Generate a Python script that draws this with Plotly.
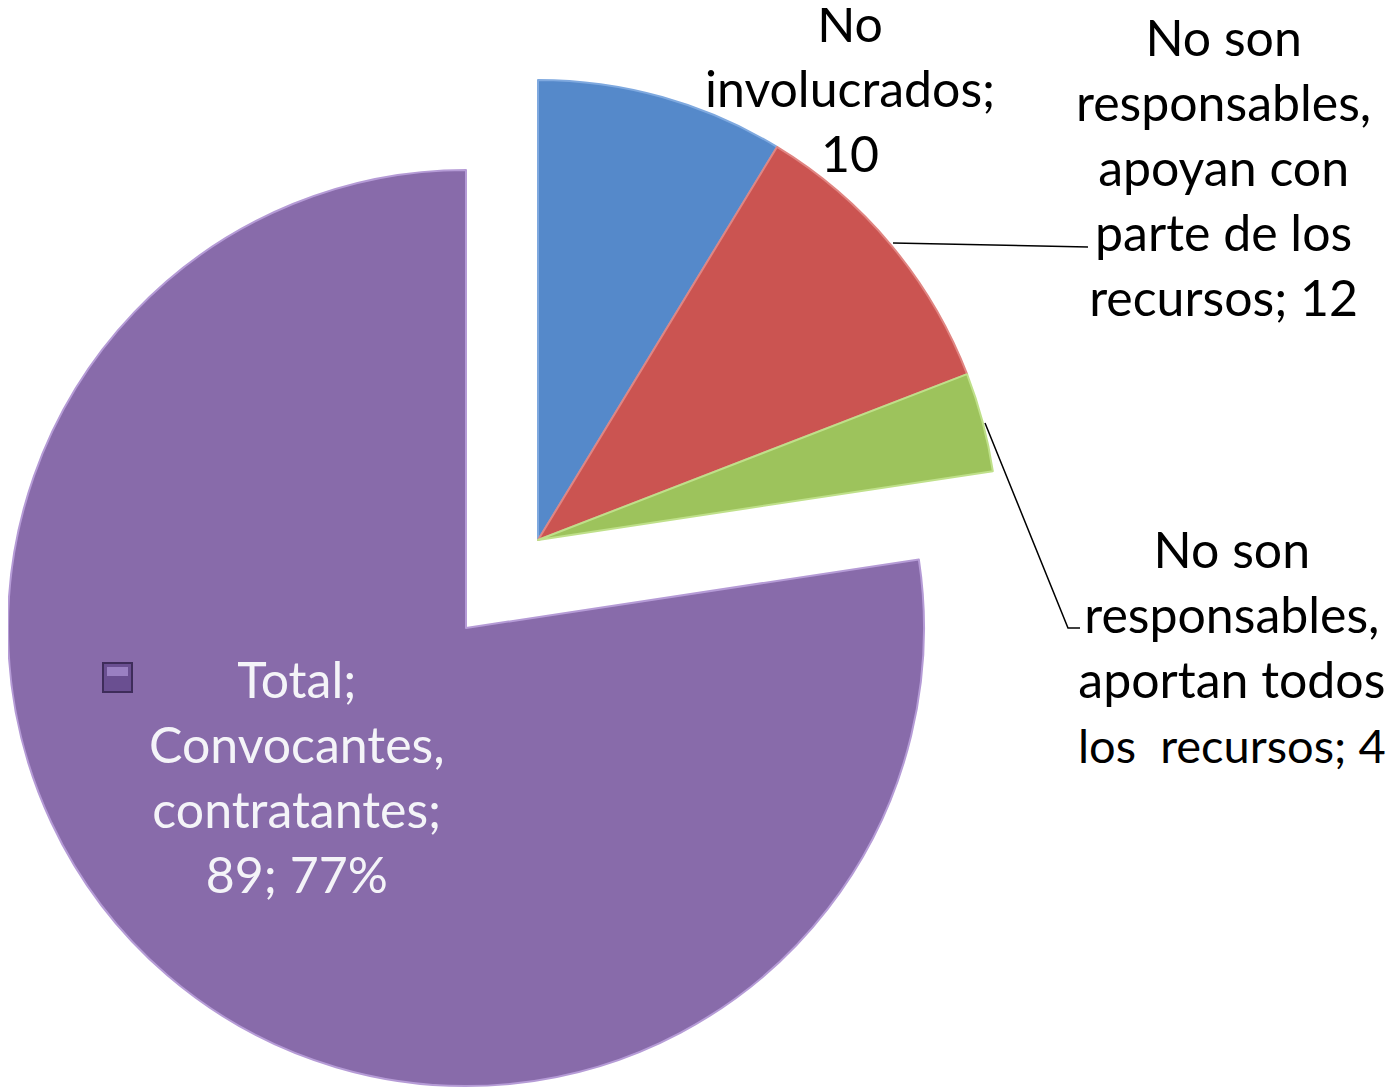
import plotly.graph_objects as go

# ---- data ----
labels = ["No involucrados",
          "No son responsables, apoyan con parte de los recursos",
          "No son responsables, aportan todos los  recursos",
          "Total; Convocantes, contratantes"]
values = [10, 12, 4, 89]
colors = ["#5589CA", "#CB5451", "#9DC35C", "#886BAA"]
edge_colors = ["#7FA9DF", "#E08582", "#BFE08A", "#B59BD6"]

label_texts = [
    "No<br>involucrados;<br>10",
    "No son<br>responsables,<br>apoyan con<br>parte de los<br>recursos; 12",
    "No son<br>responsables,<br>aportan todos<br><span style='font-size:47px'>los  recursos; 4</span>",
    "Total;<br>Convocantes,<br>contratantes;<br>89; 77%",
]

# page has an 8px body margin; figure sized to fill the rest of the viewport
OFF = 8
W, H = 1397 - OFF, 1088 - OFF
FONT = "Lato"


def px_x(x):
    return (x - OFF) / W


def px_y(y):
    return 1 - (y - OFF) / H


def clamp(v):
    return min(1.0, max(0.0, v))


def domain(cx, cy, r):
    return dict(x=[clamp(px_x(cx - r)), clamp(px_x(cx + r))],
                y=[clamp(px_y(cy + r)), clamp(px_y(cy - r))])


small_center, R_small = (538, 540), 460
big_center, R_big = (466, 628), 458

TRANSP = "rgba(0,0,0,0)"

fig = go.Figure()
# small slices (not exploded)
fig.add_trace(go.Pie(
    labels=labels, values=values, sort=False, direction="clockwise", rotation=0,
    textinfo="none", hoverinfo="label+value", showlegend=False,
    domain=domain(*small_center, R_small),
    marker=dict(colors=colors[:3] + [TRANSP],
                line=dict(color=edge_colors[:3] + [TRANSP], width=[2, 2, 2, 0])),
))
# exploded large slice
fig.add_trace(go.Pie(
    labels=labels, values=values, sort=False, direction="clockwise", rotation=0,
    textinfo="none", hoverinfo="label+value", showlegend=False,
    domain=domain(*big_center, R_big),
    marker=dict(colors=[TRANSP] * 3 + [colors[3]],
                line=dict(color=[TRANSP] * 3 + [edge_colors[3]], width=[0, 0, 0, 2])),
))

label_pos = [(850, 88), (1223, 167), (1232, 646), (297, 776)]
label_colors = ["black", "black", "black", "#F4F4F8"]
annotations = []
for t, (x, y), c in zip(label_texts, label_pos, label_colors):
    annotations.append(dict(
        text=t, x=px_x(x), y=px_y(y), xref="paper", yref="paper",
        xanchor="center", yanchor="middle", showarrow=False, align="center",
        font=dict(family=FONT, size=50, color=c)))

shapes = [
    # leader lines
    dict(type="path", xref="paper", yref="paper",
         path=f"M {px_x(893)} {px_y(243)} L {px_x(1088)} {px_y(247)}",
         line=dict(color="black", width=1.5)),
    dict(type="path", xref="paper", yref="paper",
         path=f"M {px_x(985)} {px_y(423)} L {px_x(1068)} {px_y(628)} L {px_x(1080)} {px_y(628)}",
         line=dict(color="black", width=1.5)),
    # legend key
    dict(type="rect", xref="paper", yref="paper",
         x0=px_x(103), x1=px_x(132), y0=px_y(692), y1=px_y(663),
         fillcolor="#6A4F91", line=dict(color="#3E2C5A", width=2)),
    dict(type="rect", xref="paper", yref="paper",
         x0=px_x(107), x1=px_x(128), y0=px_y(676), y1=px_y(667),
         fillcolor="#9A80C2", line=dict(width=0)),
]

fig.update_layout(
    width=W, height=H,
    margin=dict(l=0, r=0, t=0, b=0),
    paper_bgcolor="white", plot_bgcolor="white",
    annotations=annotations, shapes=shapes,
    font=dict(family=FONT),
)

fig.write_html("out.html")
